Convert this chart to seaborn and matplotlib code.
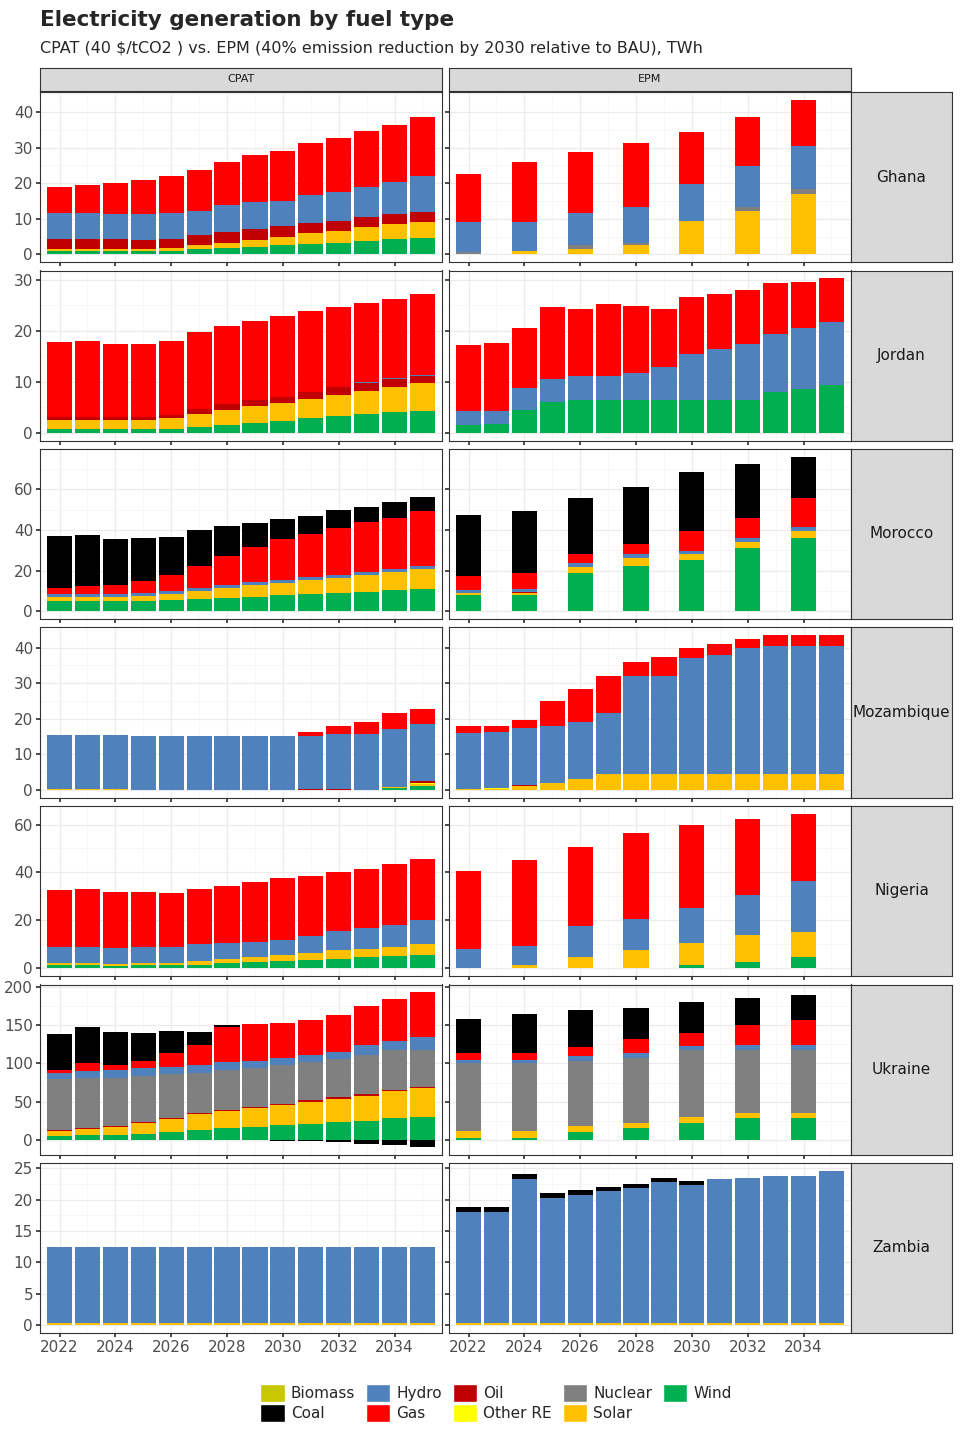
import numpy as np
import pandas as pd
import matplotlib
matplotlib.use("Agg")
import matplotlib.pyplot as plt
import seaborn as sns
from matplotlib.patches import Patch
from matplotlib.ticker import MultipleLocator, AutoMinorLocator

sns.set_theme(style="whitegrid")
plt.rcParams['font.family'] = ['DejaVu Sans']

fuels = ['Wind', 'Solar', 'Other RE', 'Biomass', 'Oil', 'Nuclear', 'Hydro', 'Gas', 'Coal']
colors = {'Biomass': '#C8C800', 'Coal': '#000000', 'Hydro': '#4F81BD', 'Gas': '#FF0000',
          'Oil': '#C00000', 'Other RE': '#FFFF00', 'Nuclear': '#808080', 'Solar': '#FFC000',
          'Wind': '#00B050'}
legend_order = ['Biomass', 'Coal', 'Hydro', 'Gas', 'Oil', 'Other RE', 'Nuclear', 'Solar', 'Wind']

years = list(range(2022, 2036))
years2 = list(range(2022, 2035, 2))
countries = ['Ghana', 'Jordan', 'Morocco', 'Mozambique', 'Nigeria', 'Ukraine', 'Zambia']

# ---- data (TWh) ----
ghana_cpat = {
    'Wind': [0.8, 0.8, 0.8, 0.8, 1, 1.5, 1.8, 2, 2.5, 3, 3.3, 3.8, 4.2, 4.5],
    'Solar': [0.7, 0.7, 0.7, 0.7, 0.8, 1, 1.5, 2, 2.5, 3, 3.3, 3.8, 4.3, 4.7],
    'Oil': [2.7, 2.7, 2.7, 2.5, 2.5, 2.8, 3, 3, 3, 2.8, 2.8, 2.8, 2.8, 2.8],
    'Hydro': [7.3, 7.3, 7, 7.3, 7.3, 7, 7.5, 7.7, 7, 8, 8, 8.5, 9, 10],
    'Gas': [7.5, 8, 8.8, 9.5, 10.5, 11.5, 12.3, 13.3, 14, 14.5, 15.3, 15.8, 16.2, 16.5],
}
ghana_epm = {
    'Solar': [0, 0.8, 1.5, 2.5, 9.3, 12.3, 17],
    'Nuclear': [0.5, 0, 1.2, 0.8, 0, 1, 1.5],
    'Hydro': [8.7, 8.2, 9, 10, 10.5, 11.5, 12],
    'Gas': [13.5, 17, 17, 18, 14.5, 13.7, 13],
}
jordan_cpat = {
    'Wind': [0.7, 0.7, 0.7, 0.7, 0.8, 1.2, 1.5, 2, 2.3, 2.8, 3.2, 3.6, 4, 4.2],
    'Solar': [1.8, 1.8, 1.8, 1.8, 2, 2.5, 3, 3.2, 3.5, 3.8, 4.2, 4.5, 5, 5.5],
    'Oil': [0.6, 0.6, 0.6, 0.6, 0.7, 1, 1.2, 1.3, 1.3, 1.4, 1.6, 1.6, 1.5, 1.5],
    'Hydro': [0, 0, 0, 0, 0, 0, 0, 0, 0, 0, 0, 0.2, 0.2, 0.2],
    'Gas': [14.7, 14.8, 14.4, 14.3, 14.4, 15.1, 15.3, 15.5, 15.7, 15.8, 15.6, 15.6, 15.5, 15.8],
}
jordan_epm = {
    'Wind': [1.5, 1.8, 4.5, 6, 6.5, 6.5, 6.5, 6.5, 6.5, 6.5, 6.5, 8, 8.5, 9.3],
    'Hydro': [2.7, 2.4, 4.3, 4.5, 4.7, 4.7, 5.3, 6.3, 9, 10, 11, 11.3, 12, 12.5],
    'Gas': [13.1, 13.4, 11.7, 14.2, 13, 14, 13, 11.4, 11.2, 10.8, 10.5, 10, 9.1, 8.5],
}
morocco_cpat = {
    'Wind': [5, 5, 5, 5, 5.5, 6, 6.5, 7, 8, 8.5, 9, 9.5, 10.5, 11],
    'Solar': [2, 2, 2, 2.5, 3, 4, 5, 6, 6, 7, 7.5, 8.5, 9, 10],
    'Hydro': [1.5] * 14,
    'Gas': [3, 4, 4.5, 6, 8, 11, 14, 17, 20, 21, 23, 24.5, 25, 27],
    'Coal': [25.5, 25, 22.5, 21, 18.5, 17.5, 15, 12, 10, 9, 9, 7.5, 7.5, 6.5],
}
morocco_epm = {
    'Wind': [8, 8, 19, 22.5, 25, 31, 36],
    'Solar': [1, 1, 3, 3.5, 3, 3, 3.5],
    'Oil': [0, 0.5, 0, 0, 0, 0, 0],
    'Hydro': [1.5, 1.5, 1.5, 2, 1.5, 2, 2],
    'Gas': [7, 8, 4.5, 5, 10, 10, 14],
    'Coal': [30, 30.5, 27.5, 28, 29, 26.5, 20.5],
}
mozambique_cpat = {
    'Wind': [0, 0, 0, 0, 0, 0, 0, 0, 0, 0, 0, 0, 0.5, 1],
    'Solar': [0.3, 0.3, 0.3, 0, 0, 0, 0, 0, 0, 0, 0, 0, 0.3, 0.5],
    'Oil': [0, 0, 0, 0, 0, 0, 0, 0, 0, 0.2, 0.2, 0, 0, 0.5],
    'Hydro': [15, 15, 15, 15, 15, 15, 15, 15, 15, 15, 15.5, 15.8, 16.3, 16],
    'Gas': [0, 0, 0, 0, 0, 0, 0, 0, 0, 1, 2.3, 3.4, 4.5, 4.3],
    'Other RE': [0, 0, 0, 0, 0, 0, 0, 0, 0, 0, 0, 0, 0, 0.5],
}
mozambique_epm = {
    'Solar': [0.3, 0.3, 1, 2, 3, 4.3, 4.3, 4.3, 4.3, 4.3, 4.3, 4.3, 4.3, 4.3],
    'Oil': [0, 0, 0.4, 0, 0, 0, 0, 0, 0, 0, 0, 0, 0, 0],
    'Hydro': [15.7, 15.7, 16.1, 16, 16, 17.2, 27.7, 27.7, 32.7, 33.7, 35.7, 36.2, 36.2, 36.2],
    'Gas': [2, 1.6, 2, 7, 9.5, 10.5, 4, 5.5, 3, 3, 2.5, 3, 3, 3],
    'Other RE': [0, 0.3, 0, 0, 0, 0, 0, 0, 0, 0, 0, 0, 0, 0],
}
nigeria_cpat = {
    'Wind': [1.2, 1.2, 1, 1.2, 1.2, 1.5, 2, 2.5, 3, 3.5, 4, 4.5, 5, 5.5],
    'Solar': [0.8, 0.8, 0.8, 0.8, 1, 1.5, 2, 2, 2.5, 3, 3.5, 3.5, 4, 4.5],
    'Hydro': [7, 7, 6.7, 7, 6.8, 7, 6.5, 6.5, 6.5, 7, 8, 9, 9, 10],
    'Gas': [23.5, 24, 23.5, 23, 22.5, 23, 24, 25, 25.5, 25, 24.5, 24.5, 25.5, 25.5],
}
nigeria_epm = {
    'Wind': [0, 0, 0, 0, 1.5, 2.5, 4.5],
    'Solar': [0, 1.3, 4.5, 7.5, 9, 11.5, 10.5],
    'Hydro': [8, 8.2, 13, 13, 14.5, 16.5, 21.5],
    'Gas': [32.5, 35.5, 33, 36, 35, 32, 28],
}
ukraine_cpat = {
    'Wind': [5, 6, 7, 8, 10, 13, 15, 17, 19, 21, 23, 25, 28, 30],
    'Solar': [7, 8, 10, 14, 17, 21, 23, 25, 27, 29, 31, 33, 36, 38],
    'Oil': [1.5] * 14,
    'Nuclear': [66, 66, 63, 60, 57, 52, 52, 50, 50, 50, 50, 52, 52, 48],
    'Hydro': [8, 9, 10, 10, 10, 10, 10, 10, 10, 10, 10, 12, 12, 17],
    'Gas': [4.5, 9.5, 6.5, 9.5, 17.5, 26.5, 45.5, 48.5, 45, 45.5, 47.5, 51.5, 54.5, 58.5],
    'Coal': [46, 47, 43, 37, 29, 17, 3.5, 0, -1, -2, -3, -5, -7, -9],
}
ukraine_epm = {
    'Wind': [3, 3, 10, 15, 22, 28, 28],
    'Solar': [8, 8, 8, 7, 8, 7, 7],
    'Nuclear': [89, 89, 85, 85, 88, 83, 83],
    'Hydro': [5, 5, 7, 7, 5, 6, 6],
    'Gas': [9, 8, 12, 18, 17, 26, 33],
    'Coal': [44, 52, 48, 40, 40, 35, 33],
}
zambia_cpat = {
    'Solar': [0.3] * 14,
    'Hydro': [12.2] * 14,
}
zambia_epm = {
    'Solar': [0.3] * 14,
    'Hydro': [17.8, 17.8, 23, 20, 20.5, 21, 21.5, 22.5, 22, 23, 23.2, 23.5, 23.5, 24.3],
    'Coal': [0.7, 0.7, 0.7, 0.7, 0.7, 0.7, 0.7, 0.7, 0.7, 0, 0, 0, 0, 0],
}

panels = {
    'Ghana': (ghana_cpat, years, ghana_epm, years2),
    'Jordan': (jordan_cpat, years, jordan_epm, years),
    'Morocco': (morocco_cpat, years, morocco_epm, years2),
    'Mozambique': (mozambique_cpat, years, mozambique_epm, years),
    'Nigeria': (nigeria_cpat, years, nigeria_epm, years2),
    'Ukraine': (ukraine_cpat, years, ukraine_epm, years2),
    'Zambia': (zambia_cpat, years, zambia_epm, years),
}
ytick_step = {'Ghana': 10, 'Jordan': 10, 'Morocco': 20, 'Mozambique': 10,
              'Nigeria': 20, 'Ukraine': 50, 'Zambia': 5}

rows = []
for c, (cp, cy, ep, ey) in panels.items():
    for scen, d, yrs in (('CPAT', cp, cy), ('EPM', ep, ey)):
        for f, vals in d.items():
            for y, v in zip(yrs, vals):
                rows.append((c, scen, f, y, v))
df = pd.DataFrame(rows, columns=['country', 'scenario', 'fuel', 'year', 'twh'])

W, H = 960, 1440
fig = plt.figure(figsize=(9.6, 14.4), dpi=100)

def px(x0, y0, w, h):
    return [x0 / W, 1 - (y0 + h) / H, w / W, h / H]

col_x = [40, 449]
pw = 402
ph = 170
row_y = [92, 270.5, 449, 627.5, 806, 984.5, 1163]
txt = '#4D4D4D'

for i, c in enumerate(countries):
    sub = df[df.country == c]
    pos = sub[sub.twh > 0].groupby(['scenario', 'year']).twh.sum()
    neg = sub[sub.twh < 0].groupby(['scenario', 'year']).twh.sum()
    hi = pos.max()
    lo = min(0, neg.min() if len(neg) else 0)
    pad = 0.05 * (hi - lo)
    for j, scen in enumerate(['CPAT', 'EPM']):
        ax = fig.add_axes(px(col_x[j], row_y[i], pw, ph))
        s = sub[sub.scenario == scen]
        yrs = sorted(s.year.unique())
        bottom_p = pd.Series(0.0, index=yrs)
        bottom_n = pd.Series(0.0, index=yrs)
        for f in fuels:
            sf = s[s.fuel == f].set_index('year').twh.reindex(yrs).fillna(0)
            if (sf == 0).all():
                continue
            p = sf.clip(lower=0)
            n = sf.clip(upper=0)
            ax.bar(yrs, p.values, bottom=bottom_p.values, width=0.9, color=colors[f], linewidth=0)
            ax.bar(yrs, n.values, bottom=bottom_n.values, width=0.9, color=colors[f], linewidth=0)
            bottom_p += p
            bottom_n += n
        ax.set_xlim(2021.3, 2035.7)
        ax.set_ylim(lo - pad, hi + pad)
        ax.set_xticks(range(2022, 2035, 2))
        ax.xaxis.set_minor_locator(MultipleLocator(1))
        ax.yaxis.set_major_locator(MultipleLocator(ytick_step[c]))
        ax.yaxis.set_minor_locator(AutoMinorLocator(2))
        ax.grid(True, which='major', color='#EBEBEB', linewidth=0.9)
        ax.grid(True, which='minor', color='#F4F4F4', linewidth=0.5)
        ax.set_axisbelow(True)
        ax.set_facecolor('white')
        for sp in ax.spines.values():
            sp.set_color('#333333')
            sp.set_linewidth(0.8)
        ax.tick_params(axis='both', which='major', length=3, color='#333333',
                       labelsize=11, labelcolor=txt, pad=2)
        ax.tick_params(which='minor', length=0)
        ax.tick_params(axis='x', bottom=True)
        ax.tick_params(axis='y', left=True)
        if j == 1:
            ax.set_yticklabels([])
        if i < len(countries) - 1:
            ax.set_xticklabels([])
        ax.set_xlabel('')
        ax.set_ylabel('')
        if i == 0:
            sax = fig.add_axes(px(col_x[j], 68, pw, 23))
            sax.set_facecolor('#D9D9D9')
            sax.set_xticks([]); sax.set_yticks([])
            for sp in sax.spines.values():
                sp.set_color('#333333'); sp.set_linewidth(0.8)
            sax.text(0.5, 0.5, scen, ha='center', va='center', fontsize=8, color='#1A1A1A',
                     transform=sax.transAxes)
    rax = fig.add_axes(px(851, row_y[i], 101, ph))
    rax.set_facecolor('#D9D9D9')
    rax.set_xticks([]); rax.set_yticks([])
    for sp in rax.spines.values():
        sp.set_color('#333333'); sp.set_linewidth(0.8)
    rax.text(0.5, 0.5, c, ha='center', va='center', fontsize=11, color='#1A1A1A',
             transform=rax.transAxes)

fig.text(40 / W, 1 - 20 / H, 'Electricity generation by fuel type', fontsize=15.5,
         fontweight='bold', va='center', ha='left')
fig.text(40 / W, 1 - 49 / H, 'CPAT (40 $/tCO2 ) vs. EPM (40% emission reduction by 2030 relative to BAU), TWh',
         fontsize=11.5, va='center', ha='left')

handles = [Patch(facecolor=colors[f], label=f) for f in legend_order]
fig.legend(handles=handles, ncol=5, loc='center', bbox_to_anchor=(496 / W, 1 - 1403 / H),
           frameon=False, fontsize=11, handlelength=1.6, handleheight=1.5,
           columnspacing=0.7, handletextpad=0.4, labelspacing=0.1)

fig.savefig('out.png', dpi=100)
